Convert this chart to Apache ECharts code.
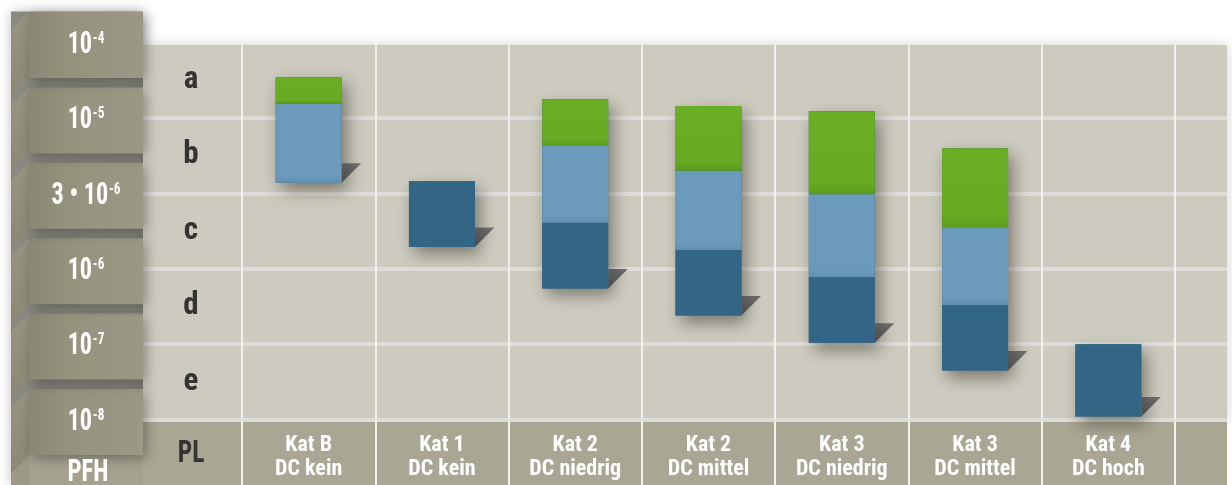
<!DOCTYPE html>
<html><head><meta charset="utf-8">
<script src="https://cdn.jsdelivr.net/npm/echarts@6/dist/echarts.min.js"></script>
<style>html,body{margin:0;padding:0;background:#fff}#c{width:1232px;height:485px}</style>
</head><body><div id="c"></div>
<script>
// ---- data ----
const categories = ['Kat B\nDC kein','Kat 1\nDC kein','Kat 2\nDC niedrig','Kat 2\nDC mittel','Kat 3\nDC niedrig','Kat 3\nDC mittel','Kat 4\nDC hoch'];
const plLevels = ['e','d','c','b','a'];
// PFH tick labels at the PL band boundaries 0..5 (bottom to top)
const pfhBase = ['10','10','10','3 • 10','10','10'];
const pfhExp  = ['-8','-7','-6','-6','-5','-4'];
// bar segments [low, high] in PL-band units (0 = bottom of e, 5 = top of a)
const greenRange = [[4.19,4.54], null, [3.64,4.25], [3.30,4.16], [2.99,4.09], [2.55,3.60], null];
const lightRange = [[3.14,4.19], null, [2.61,3.64], [2.25,3.30], [1.89,2.99], [1.52,2.55], null];
const darkRange  = [null, [2.29,3.16], [1.74,2.61], [1.38,2.25], [1.02,1.89], [0.65,1.52], [0.04,1.00]];

const FF = '"Roboto Condensed","Liberation Sans Narrow","DejaVu Sans Condensed",sans-serif';
const chart = echarts.init(document.getElementById('c'), null, {renderer:'canvas'});

const fills = [
  '#336585',
  {type:'linear',x:0,y:0,x2:0,y2:1,colorStops:[{offset:0,color:'#6b9aba'},{offset:0.9,color:'#6b9aba'},{offset:1,color:'#6590b0'}]},
  {type:'linear',x:0,y:0,x2:0,y2:1,colorStops:[{offset:0,color:'#69ae24'},{offset:0.86,color:'#67ab22'},{offset:1,color:'#5b9b1b'}]}
];

function renderItem(params, api){
  const i = params.dataIndex;
  const segs = [darkRange[i], lightRange[i], greenRange[i]];
  const present = segs.filter(Boolean);
  const lo = Math.min.apply(null, present.map(s=>s[0]));
  const hi = Math.max.apply(null, present.map(s=>s[1]));
  const w = api.size([1,0])[0]*0.495;
  const cx = api.coord([i, 0])[0];
  const x0 = cx - w/2;
  const yLo = api.coord([i, lo])[1], yHi = api.coord([i, hi])[1];
  const children = [];
  children.push({type:'rect', shape:{x:x0,y:yHi,width:w,height:yLo-yHi},
    style:{fill:'#336585', shadowBlur:16, shadowOffsetX:5, shadowOffsetY:7, shadowColor:'rgba(40,38,25,0.5)'}});
  const t = 19.5;
  children.push({type:'polygon', shape:{points:[[x0+w, yLo-t],[x0+w+t, yLo-t],[x0+w, yLo]]},
    style:{fill:{type:'linear',x:0,y:1,x2:1,y2:0,colorStops:[{offset:0,color:'#4a4a4a'},{offset:1,color:'#6e6e6e'}]}}});
  segs.forEach((s,k)=>{
    if(!s) return;
    const y1 = api.coord([i, s[1]])[1], y0 = api.coord([i, s[0]])[1];
    children.push({type:'rect', shape:{x:x0,y:y1,width:w,height:y0-y1}, style:{fill:fills[k]}});
  });
  return {type:'group', children};
}

const option = {
  animation:false,
  backgroundColor:'#ffffff',
  grid:[
    {left:143, width:1084, top:42.6, height:377},
    {left:242, width:933, top:42.6, height:377},
    {left:242, width:933, top:421, height:64}
  ],
  xAxis:[
    {gridIndex:0, type:'value', show:false},
    {gridIndex:1, type:'category', data:categories, boundaryGap:true,
      axisLine:{show:false}, axisTick:{show:false}, axisLabel:{show:false},
      splitLine:{show:true, interval:0, lineStyle:{color:'#f1f0ec', width:2}}},
    {gridIndex:2, type:'category', data:categories, position:'top', boundaryGap:true,
      axisLine:{show:false}, axisTick:{show:false},
      axisLabel:{inside:true, interval:0, margin:12, color:'#ffffff', fontFamily:FF, fontWeight:'bold', fontSize:22, lineHeight:24},
      splitLine:{show:true, interval:0, lineStyle:{color:'#f1f0ec', width:2}}}
  ],
  yAxis:[
    {gridIndex:0, type:'category', data:plLevels, boundaryGap:true,
      axisLine:{show:false}, axisTick:{show:false},
      axisLabel:{inside:true, interval:0, align:'center', margin:48, color:'#333333', fontFamily:FF, fontWeight:'bold', fontSize:31},
      splitLine:{show:true, interval:0, showMaxLine:false, lineStyle:{color:'#dedcd8', width:4}}},
    {gridIndex:1, type:'value', min:0, max:5, interval:1, show:false},
    {gridIndex:2, type:'value', show:false}
  ],
  series:[{type:'custom', xAxisIndex:1, yAxisIndex:1, z:5, renderItem, data: categories.map((c,i)=>[i])}]
};
chart.setOption(option);

// ---- decorative frame, PFH scale boxes (positioned from the y scale) ----
const els = [];
const yTop = chart.convertToPixel({yAxisIndex:1}, 5);
const yBot = chart.convertToPixel({yAxisIndex:1}, 0);
els.push({type:'rect', z:-20, shape:{x:11,y:yTop-31,width:132,height:485-(yTop-31)}, style:{fill:'#8b8a81', shadowBlur:12, shadowColor:'rgba(0,0,0,0.25)'}});
els.push({type:'rect', z:-19, shape:{x:143,y:yTop+2.4,width:1084,height:yBot-yTop}, style:{fill:'#cdcbbf', shadowBlur:12, shadowColor:'rgba(0,0,0,0.18)'}});
els.push({type:'rect', z:-18, shape:{x:143,y:yBot+1,width:1084,height:485-yBot}, style:{fill:'#a9a793'}});

const frontFill = {type:'linear',x:0,y:0,x2:1,y2:0,colorStops:[{offset:0,color:'#8a8874'},{offset:0.35,color:'#95937e'},{offset:1,color:'#9b9985'}]};
const sideFill = {type:'linear',x:0,y:0,x2:0,y2:1,colorStops:[{offset:0,color:'#989682'},{offset:1,color:'#8b8976'}]};
for(let v=0; v<pfhBase.length; v++){
  const yc = chart.convertToPixel({yAxisIndex:1}, v) + 2.4;
  const t = yc-33, b = yc+33;
  els.push({type:'polygon', z:10, shape:{points:[[29,t],[11,t+18],[11,b+18],[29,b]]}, style:{fill:sideFill}});
  els.push({type:'rect', z:11, shape:{x:29,y:t,width:114,height:66},
    style:{fill:frontFill, shadowBlur:12, shadowOffsetX:3, shadowOffsetY:3, shadowColor:'rgba(0,0,0,0.35)'}});
  els.push({type:'text', z:12, x:86, y:yc, scaleX:0.78, style:{
    text:'{b|'+pfhBase[v]+'}{s|'+pfhExp[v]+'}', align:'center', verticalAlign:'middle',
    rich:{b:{fontFamily:FF, fontWeight:'bold', fontSize:31, fill:'#fff', lineHeight:30},
          s:{fontFamily:FF, fontWeight:'bold', fontSize:17, fill:'#fff', lineHeight:30, verticalAlign:'top', padding:[0,0,0,1]}}}});
}
const pb = yBot + 2.4 + 33;
els.push({type:'polygon', z:9, shape:{points:[[29,pb],[11,pb+18],[11,485],[29,485]]}, style:{fill:'#9c9a86'}});
els.push({type:'rect', z:9, shape:{x:29,y:pb,width:114,height:485-pb}, style:{fill:'#a4a28e'}});
els.push({type:'text', z:12, x:88, y:473, scaleX:0.8, style:{text:'PFH', align:'center', verticalAlign:'middle', fontFamily:FF, fontWeight:'bold', fontSize:31, fill:'#fff'}});
els.push({type:'text', z:12, x:191, y:454, scaleX:0.82, style:{text:'PL', align:'center', verticalAlign:'middle', fontFamily:FF, fontWeight:'bold', fontSize:31, fill:'#333'}});
chart.setOption({graphic:{elements:els}});
</script></body></html>
